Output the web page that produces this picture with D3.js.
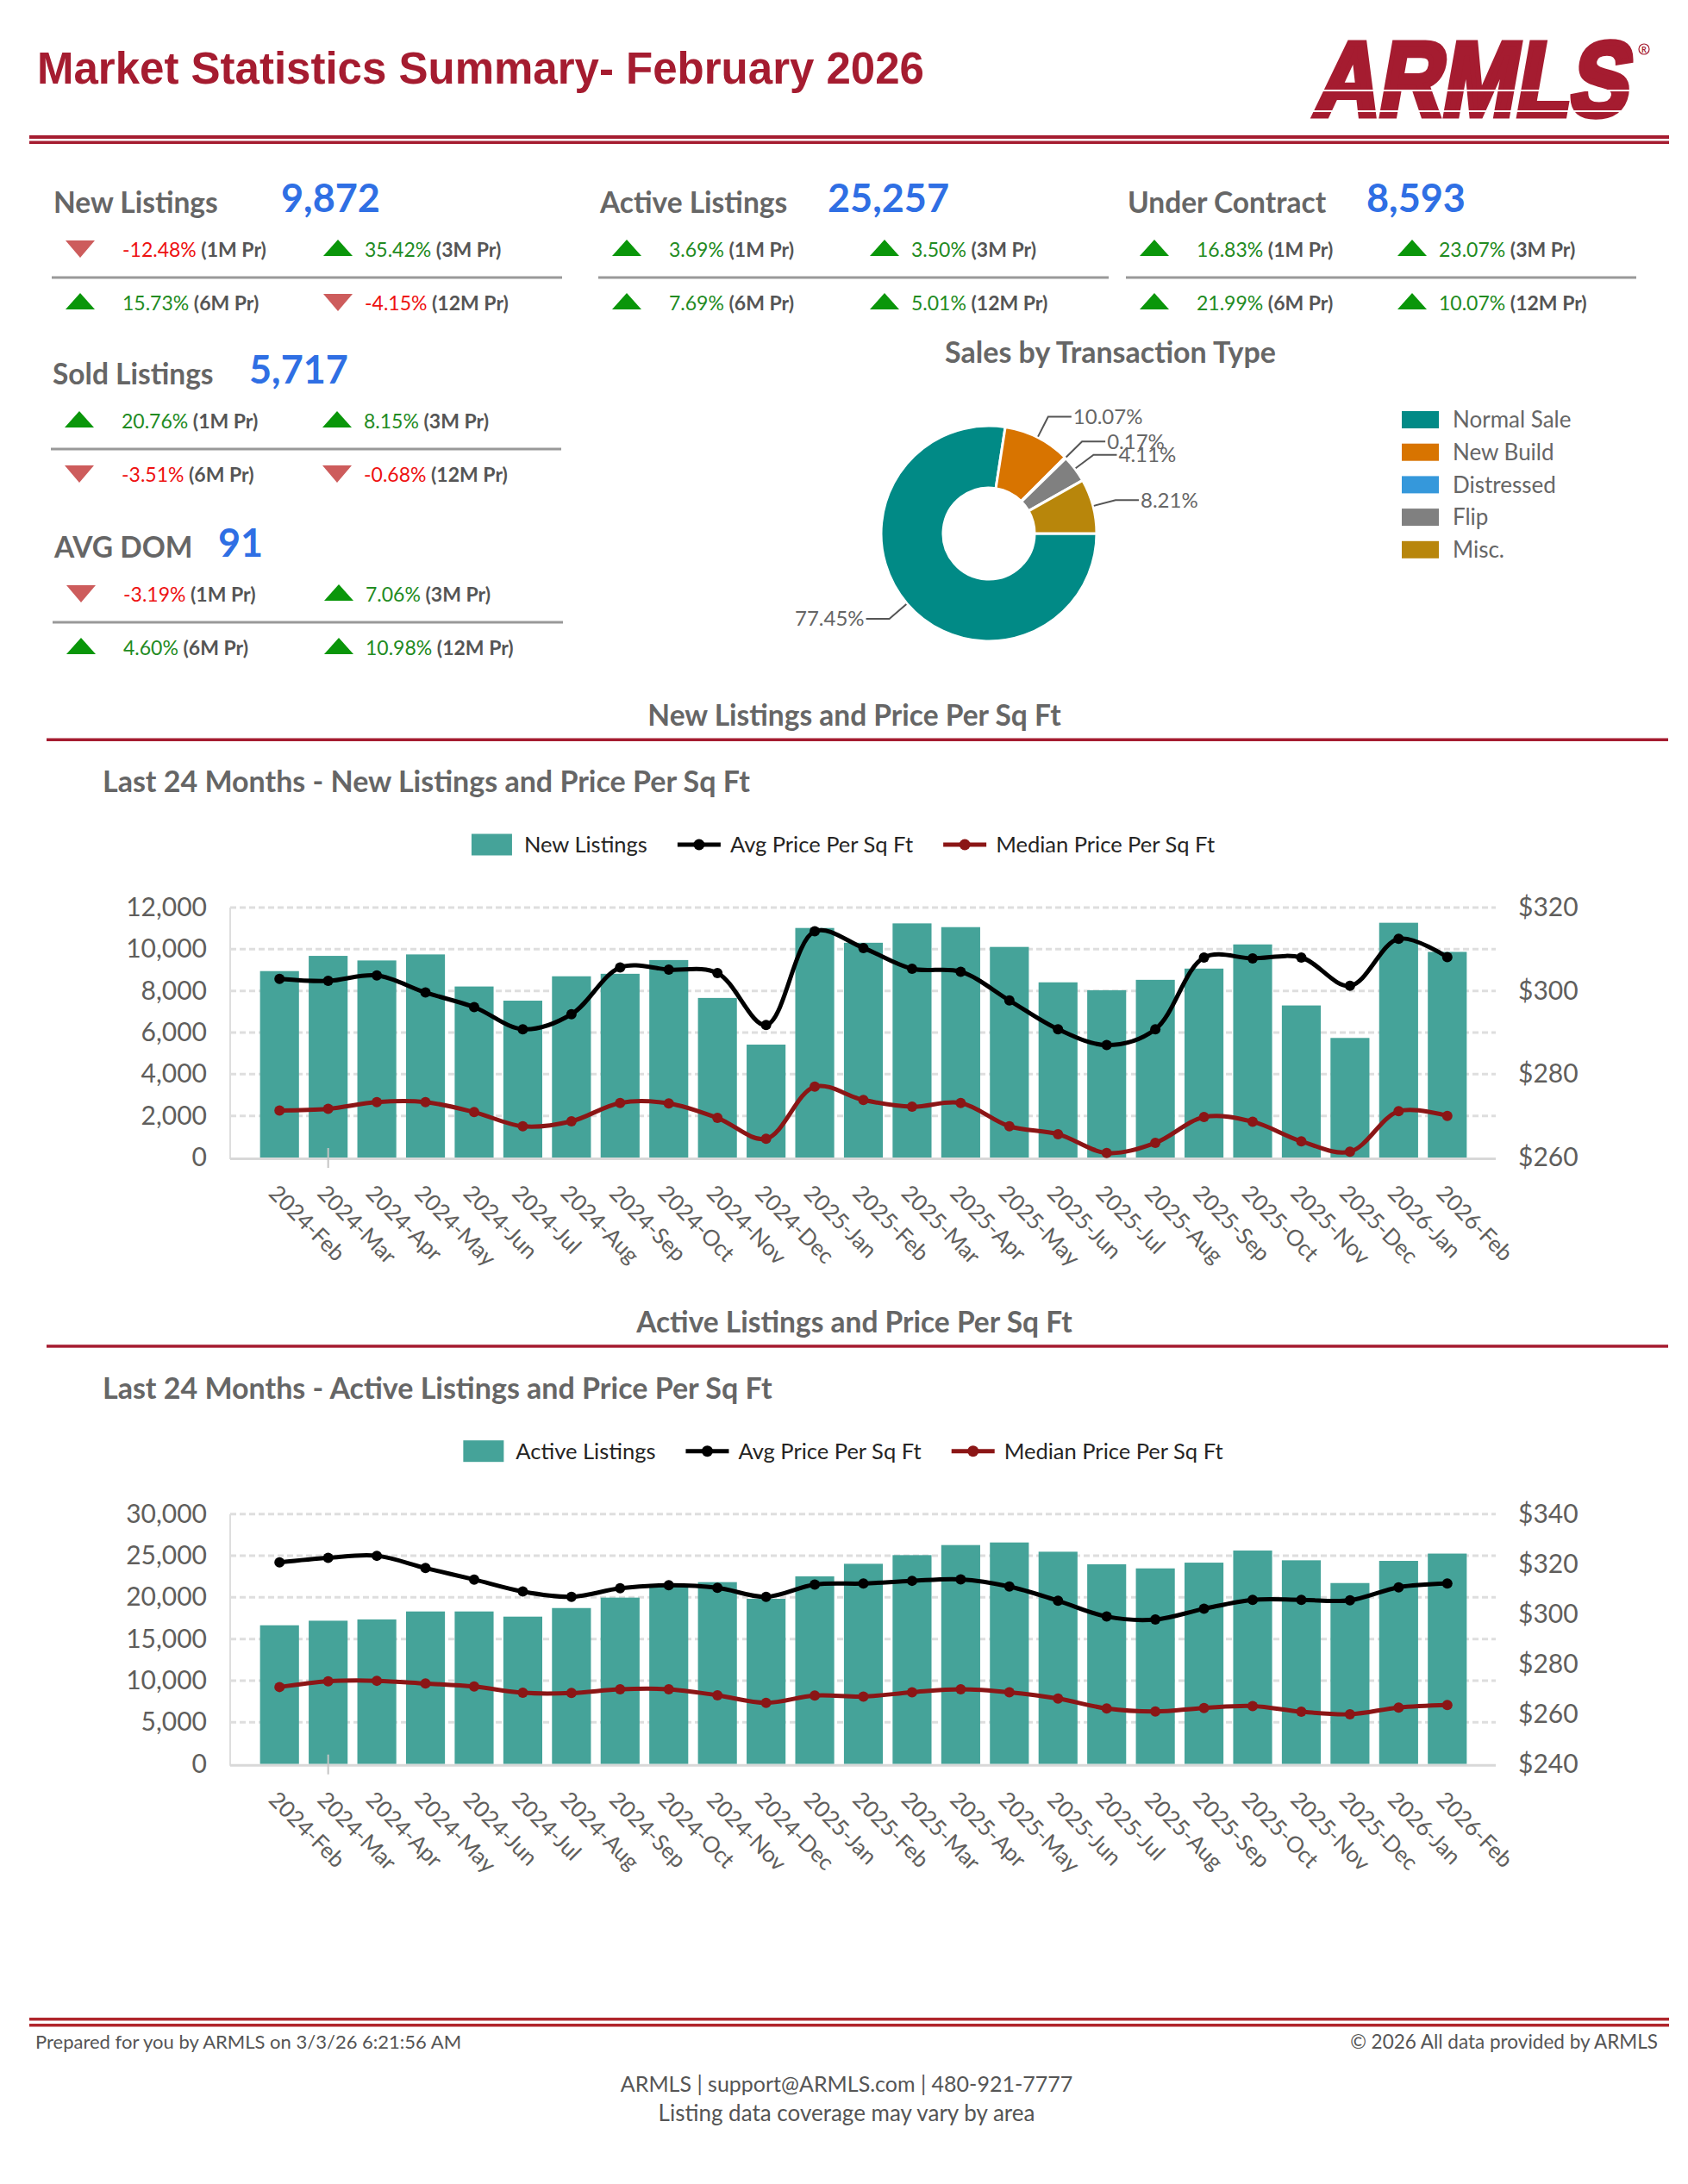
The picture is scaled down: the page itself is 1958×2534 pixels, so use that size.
<!DOCTYPE html>
<html>
<head>
<meta charset="utf-8">
<script src="https://cdn.jsdelivr.net/npm/d3@7"></script>
<style>
  body { margin: 0; background: #fff; }
  svg { display: block; }
</style>
</head>
<body>
<script>
// ---- data
const months = ["2024-Feb","2024-Mar","2024-Apr","2024-May","2024-Jun","2024-Jul","2024-Aug","2024-Sep","2024-Oct","2024-Nov","2024-Dec",
  "2025-Jan","2025-Feb","2025-Mar","2025-Apr","2025-May","2025-Jun","2025-Jul","2025-Aug","2025-Sep","2025-Oct","2025-Nov","2025-Dec",
  "2026-Jan","2026-Feb"];

const newListings = [8950, 9680, 9460, 9750, 8210, 7530, 8700, 8820, 9480, 7660, 5420,
  11020, 10310, 11240, 11060, 10110, 8410, 8030, 8530, 9070, 10230, 7300, 5740, 11270, 9872];
const newAvgPpsf = [302.9, 302.4, 303.7, 299.6, 296.1, 290.8, 294.4, 305.6, 305.1, 304.3, 291.8,
  314.3, 310.3, 305.3, 304.6, 297.7, 290.8, 287.0, 290.8, 308.0, 307.8, 308.0, 301.2, 312.5, 308.1];
const newMedPpsf = [271.3, 271.7, 273.3, 273.3, 270.9, 267.5, 268.7, 273.1, 273.0, 269.5, 264.5,
  277.0, 273.8, 272.2, 273.1, 267.5, 265.6, 261.1, 263.5, 269.7, 268.6, 263.9, 261.4, 271.1, 270.0];

const activeListings = [16650, 17200, 17350, 18310, 18310, 17690, 18720, 19970, 21600, 21830, 19830,
  22520, 24030, 25070, 26280, 26590, 25480, 23970, 23480, 24170, 25620, 24450, 21720, 24380, 25257];
const activeAvgPpsf = [320.7, 322.5, 323.3, 318.4, 313.8, 309.0, 306.9, 310.3, 311.5, 310.5, 306.9,
  311.8, 312.2, 313.3, 313.9, 311.0, 305.3, 299.0, 297.8, 302.1, 305.7, 305.7, 305.5, 310.7, 312.2];
const activeMedPpsf = [270.8, 273.1, 273.3, 272.2, 271.0, 268.5, 268.4, 269.9, 269.9, 267.5, 264.5,
  267.4, 267.0, 268.7, 269.9, 268.7, 266.2, 262.2, 261.0, 262.4, 263.2, 260.9, 259.9, 262.6, 263.6];

const kpiNames = ["New Listings", "Active Listings", "Under Contract", "Sold Listings", "AVG DOM"];
const kpiValues = [9872, 25257, 8593, 5717, 91];
const kpiChange1M = [-12.48, 3.69, 16.83, 20.76, -3.19];
const kpiChange3M = [35.42, 3.50, 23.07, 8.15, 7.06];
const kpiChange6M = [15.73, 7.69, 21.99, -3.51, 4.60];
const kpiChange12M = [-4.15, 5.01, 10.07, -0.68, 10.98];
const periods = ["1M Pr", "3M Pr", "6M Pr", "12M Pr"];

const txTypes = ["Normal Sale", "New Build", "Distressed", "Flip", "Misc."];
const txShares = [77.45, 10.07, 0.17, 4.11, 8.21];

// ---- page setup
const W = 1958, H = 2534;
const FONT = "'Segoe UI', Lato, 'Noto Sans', sans-serif";
const RED = "#a51c30";
const GRAY = "#666666";
const AXIS_GRAY = "#605e5c";
const BAR = "#45a399";

const svg = d3.select("body").append("svg")
    .attr("width", W)
    .attr("height", H)
    .style("font-family", FONT);

// ---- header
svg.append("text")
    .attr("x", 43).attr("y", 97)
    .style("font-family", "'Liberation Sans', Arial, sans-serif")
    .style("font-weight", 700)
    .style("font-size", "51px")
    .attr("fill", RED)
    .text("Market Statistics Summary- February 2026");

// logo, drawn as slanted heavy text
const logo = svg.append("g").attr("transform", "translate(1522,134) skewX(-10)");
logo.append("text")
    .attr("textLength", 364).attr("lengthAdjust", "spacingAndGlyphs")
    .style("font-family", "'Liberation Sans', Arial, sans-serif")
    .style("font-weight", 700)
    .style("font-size", "122px")
    .attr("fill", RED)
    .attr("stroke", RED).attr("stroke-width", 7).attr("stroke-linejoin", "miter")
    .text("ARMLS");
svg.append("rect").attr("x", 1505).attr("y", 104).attr("width", 400).attr("height", 2).attr("fill", "#fff");
svg.append("rect").attr("x", 1505).attr("y", 128).attr("width", 400).attr("height", 2).attr("fill", "#fff");
svg.append("circle").attr("cx", 1907).attr("cy", 57).attr("r", 6)
    .attr("fill", "none").attr("stroke", RED).attr("stroke-width", 1.2);
svg.append("text").attr("x", 1907).attr("y", 60.5).attr("text-anchor", "middle")
    .style("font-size", "9px").style("font-weight", 700).attr("fill", RED).text("R");

// double rules
svg.append("rect").attr("x", 34).attr("y", 157).attr("width", 1902).attr("height", 4).attr("fill", RED);
svg.append("rect").attr("x", 34).attr("y", 163.5).attr("width", 1902).attr("height", 3.5).attr("fill", RED);

// ---- KPI blocks
const kpiLayout = [
    {x: 60, y: 247, vx: 326},
    {x: 694, y: 247, vx: 960},
    {x: 1306, y: 247, vx: 1585},
    {x: 59, y: 446, vx: 289},
    {x: 61, y: 647, vx: 253}
];
const fmtPct = d => d.toFixed(2) + "%";

kpiNames.forEach((name, k) => {
    const L = kpiLayout[k];
    const g = svg.append("g");

    g.append("text")
        .attr("x", L.x + 2).attr("y", L.y)
        .attr("fill", GRAY)
        .style("font-size", "33.5px").style("font-weight", 700)
        .text(name);

    g.append("text")
        .attr("x", L.vx).attr("y", L.y - 1)
        .attr("fill", "#2f6fe4")
        .style("font-size", "45px").style("font-weight", 700)
        .text(d3.format(",")(kpiValues[k]));

    g.append("rect")
        .attr("x", L.x).attr("y", L.y + 73.5)
        .attr("width", 592).attr("height", 3)
        .attr("fill", "#999");

    const changes = [kpiChange1M[k], kpiChange3M[k], kpiChange6M[k], kpiChange12M[k]];
    changes.forEach((c, j) => {
        const col = j % 2, row = Math.floor(j / 2);
        const base = L.y + (row ? 113 : 51);
        const cx = L.x + (col ? 332 : 33);
        const up = c >= 0;
        const pts = up
            ? [[cx - 17, base - 1], [cx + 17, base - 1], [cx, base - 20]]
            : [[cx - 17, base - 19], [cx + 17, base - 19], [cx, base + 1]];
        g.append("polygon")
            .attr("points", pts.map(p => p.join(",")).join(" "))
            .attr("fill", up ? "#0a960a" : "#cd5c5c");

        const t = g.append("text")
            .attr("x", L.x + (col ? 363 : 82)).attr("y", base)
            .style("font-size", "23px");
        t.append("tspan").attr("fill", up ? "#228b22" : "#ee1111").text(fmtPct(c));
        t.append("tspan").attr("fill", "#555").style("font-weight", 700).text(" (" + periods[j] + ")");
    });
});

// ---- Sales by Transaction Type donut
const txColor = d3.scaleOrdinal()
    .domain(txTypes)
    .range(["#018a86", "#d87400", "#3598db", "#808080", "#b8860b"]);

svg.append("text")
    .attr("x", 1288).attr("y", 421).attr("text-anchor", "middle")
    .attr("fill", GRAY)
    .style("font-size", "34px").style("font-weight", 700)
    .text("Sales by Transaction Type");

const pieCx = 1147, pieCy = 619, rOut = 125, rIn = 53;
const pie = d3.pie()
    .sort(null)
    .value(d => d)
    .startAngle(Math.PI / 2)
    .endAngle(Math.PI / 2 + 2 * Math.PI);
const arc = d3.arc().innerRadius(rIn).outerRadius(rOut);
const arcs = pie(txShares);

const donut = svg.append("g").attr("transform", `translate(${pieCx},${pieCy})`);
donut.selectAll("path")
    .data(arcs)
    .join("path")
    .attr("d", arc)
    .attr("fill", (d, i) => txColor(txTypes[i]))
    .attr("stroke", "#fff")
    .attr("stroke-width", 3);

// leader lines + labels
arcs.forEach(d => {
    const a = (d.startAngle + d.endAngle) / 2;
    const sx = Math.sin(a), sy = -Math.cos(a);
    const right = sx >= 0;
    const p1 = [sx * (rOut + 1), sy * (rOut + 1)];
    const p2 = [sx * (rOut + 27), sy * (rOut + 27)];
    const p3 = [p2[0] + (right ? 27 : -27), p2[1]];
    donut.append("polyline")
        .attr("points", [p1, p2, p3].map(p => p.join(",")).join(" "))
        .attr("fill", "none")
        .attr("stroke", "#555")
        .attr("stroke-width", 2);
    donut.append("text")
        .attr("x", p3[0] + (right ? 2 : -2)).attr("y", p3[1])
        .attr("dy", "0.35em")
        .attr("text-anchor", right ? "start" : "end")
        .attr("fill", GRAY)
        .style("font-size", "24px")
        .text(d.data.toFixed(2) + "%");
});

const txLegend = svg.append("g").attr("transform", "translate(1626,487)");
txTypes.forEach((t, i) => {
    txLegend.append("rect")
        .attr("x", 0).attr("y", i * 37.7 - 10)
        .attr("width", 43).attr("height", 20)
        .attr("fill", txColor(t));
    txLegend.append("text")
        .attr("x", 59).attr("y", i * 37.7)
        .attr("dy", "0.35em")
        .attr("fill", GRAY)
        .style("font-size", "26px")
        .text(t);
});

// ---- combo charts (bars + price lines)
function comboChart(o) {
    const top = 1053 + o.dy, bottom = 1343 + o.dy, left = 267, right = 1735;
    const g = svg.append("g");

    g.append("text")
        .attr("x", 991).attr("y", 842 + o.dy).attr("text-anchor", "middle")
        .attr("fill", GRAY)
        .style("font-size", "33.5px").style("font-weight", 700)
        .text(o.section);
    g.append("rect")
        .attr("x", 54).attr("y", 856.5 + o.dy)
        .attr("width", 1881).attr("height", 3.5)
        .attr("fill", RED);
    g.append("text")
        .attr("x", 119).attr("y", 919 + o.dy)
        .attr("fill", GRAY)
        .style("font-size", "34px").style("font-weight", 700)
        .text(o.subtitle);

    const x = d3.scaleBand().domain(months).range([296, 1707]).paddingInner(0.2).paddingOuter(0.1);
    const bw = x.bandwidth();
    const y = d3.scaleLinear().domain([0, o.yMax]).range([bottom, top]);
    const yP = d3.scaleLinear().domain(o.pDomain).range([bottom, top]);
    const yTicks = d3.range(0, o.yMax + 1, o.yStep);
    const pTicks = d3.range(o.pDomain[0], o.pDomain[1] + 1, o.pStep);

    // gridlines
    g.append("g")
        .selectAll("line")
        .data(yTicks.slice(1))
        .join("line")
        .attr("x1", left).attr("x2", right)
        .attr("y1", d => y(d)).attr("y2", d => y(d))
        .attr("stroke", "#dedede")
        .attr("stroke-width", 3)
        .attr("stroke-dasharray", "7,4");
    g.append("line")
        .attr("x1", left).attr("x2", left)
        .attr("y1", top).attr("y2", bottom + 2)
        .attr("stroke", "#dedede").attr("stroke-width", 2);

    // axes
    const axL = g.append("g")
        .attr("transform", `translate(${left},0)`)
        .call(d3.axisLeft(y).tickValues(yTicks).tickFormat(d3.format(",")).tickSize(0).tickPadding(27));
    const axR = g.append("g")
        .attr("transform", `translate(${right},0)`)
        .call(d3.axisRight(yP).tickValues(pTicks).tickFormat(d => "$" + d).tickSize(0).tickPadding(26));
    [axL, axR].forEach(ax => {
        ax.select(".domain").remove();
        ax.selectAll("text")
            .attr("fill", AXIS_GRAY)
            .style("font-family", FONT)
            .style("font-size", "30px");
    });

    // bars
    g.append("g")
        .selectAll("rect")
        .data(o.bars)
        .join("rect")
        .attr("x", (d, i) => x(months[i]))
        .attr("y", d => y(d))
        .attr("width", bw)
        .attr("height", d => bottom - y(d))
        .attr("fill", BAR);

    // x axis line and the small stray tick under the 2nd month
    g.append("line")
        .attr("x1", left).attr("x2", right)
        .attr("y1", bottom + 1.5).attr("y2", bottom + 1.5)
        .attr("stroke", "#d8d8d8").attr("stroke-width", 3);
    g.append("line")
        .attr("x1", x(months[1]) + bw / 2).attr("x2", x(months[1]) + bw / 2)
        .attr("y1", bottom - 11).attr("y2", bottom + 12)
        .attr("stroke", "#c4c4c4").attr("stroke-width", 2);

    // month labels
    g.append("g")
        .selectAll("text")
        .data(months)
        .join("text")
        .attr("transform", d => `translate(${x(d) + bw / 2 - 14},${bottom + 43}) rotate(45)`)
        .attr("fill", AXIS_GRAY)
        .style("font-size", "26px")
        .text(d => d);

    // price lines
    const line = d3.line()
        .x((d, i) => x(months[i]) + bw / 2)
        .y(d => yP(d))
        .curve(d3.curveCatmullRom);
    [[o.avg, "#000000"], [o.med, "#8b1616"]].forEach(([vals, col]) => {
        g.append("path")
            .datum(vals)
            .attr("d", line)
            .attr("fill", "none")
            .attr("stroke", col)
            .attr("stroke-width", 5);
        g.append("g")
            .selectAll("circle")
            .data(vals)
            .join("circle")
            .attr("cx", (d, i) => x(months[i]) + bw / 2)
            .attr("cy", d => yP(d))
            .attr("r", 6)
            .attr("fill", col);
    });

    // legend
    const lg = g.append("g");
    const ly = 980 + o.dy;
    let cx = 0;
    const items = [[o.barName, "bar", BAR], ["Avg Price Per Sq Ft", "line", "#000000"], ["Median Price Per Sq Ft", "line", "#8b1616"]];
    items.forEach(([label, kind, col]) => {
        if (kind === "bar") {
            lg.append("rect").attr("x", cx).attr("y", ly - 12.5).attr("width", 47).attr("height", 25).attr("fill", col);
        } else {
            lg.append("line").attr("x1", cx).attr("x2", cx + 50).attr("y1", ly).attr("y2", ly)
                .attr("stroke", col).attr("stroke-width", 5);
            lg.append("circle").attr("cx", cx + 25).attr("cy", ly).attr("r", 6.5).attr("fill", col);
        }
        const t = lg.append("text")
            .attr("x", cx + 61).attr("y", ly).attr("dy", "0.36em")
            .attr("fill", "#252423")
            .style("font-size", "25.5px")
            .text(label);
        cx += 61 + t.node().getComputedTextLength() + 35;
    });
    lg.attr("transform", `translate(${978 - (cx - 35) / 2},0)`);
}

comboChart({
    dy: 0,
    section: "New Listings and Price Per Sq Ft",
    subtitle: "Last 24 Months - New Listings and Price Per Sq Ft",
    barName: "New Listings",
    bars: newListings, avg: newAvgPpsf, med: newMedPpsf,
    yMax: 12000, yStep: 2000, pDomain: [260, 320], pStep: 20
});

comboChart({
    dy: 703.7,
    section: "Active Listings and Price Per Sq Ft",
    subtitle: "Last 24 Months - Active Listings and Price Per Sq Ft",
    barName: "Active Listings",
    bars: activeListings, avg: activeAvgPpsf, med: activeMedPpsf,
    yMax: 30000, yStep: 5000, pDomain: [240, 340], pStep: 20
});

// ---- footer
svg.append("rect").attr("x", 34).attr("y", 2341).attr("width", 1902).attr("height", 3.5).attr("fill", "#b0262c");
svg.append("rect").attr("x", 34).attr("y", 2348).attr("width", 1902).attr("height", 3.5).attr("fill", "#b0262c");

svg.append("text").attr("x", 41).attr("y", 2377)
    .attr("fill", "#555").style("font-size", "22px")
    .text("Prepared for you by ARMLS on 3/3/26 6:21:56 AM");
svg.append("text").attr("x", 1923).attr("y", 2377).attr("text-anchor", "end")
    .attr("fill", "#555").style("font-size", "22.5px")
    .text("\u00a9 2026 All data provided by ARMLS");
svg.append("text").attr("x", 982).attr("y", 2427).attr("text-anchor", "middle")
    .attr("fill", "#555").style("font-size", "25px")
    .text("ARMLS | support@ARMLS.com | 480-921-7777");
svg.append("text").attr("x", 982).attr("y", 2461).attr("text-anchor", "middle")
    .attr("fill", "#555").style("font-size", "26px")
    .text("Listing data coverage may vary by area");
</script>
</body>
</html>
